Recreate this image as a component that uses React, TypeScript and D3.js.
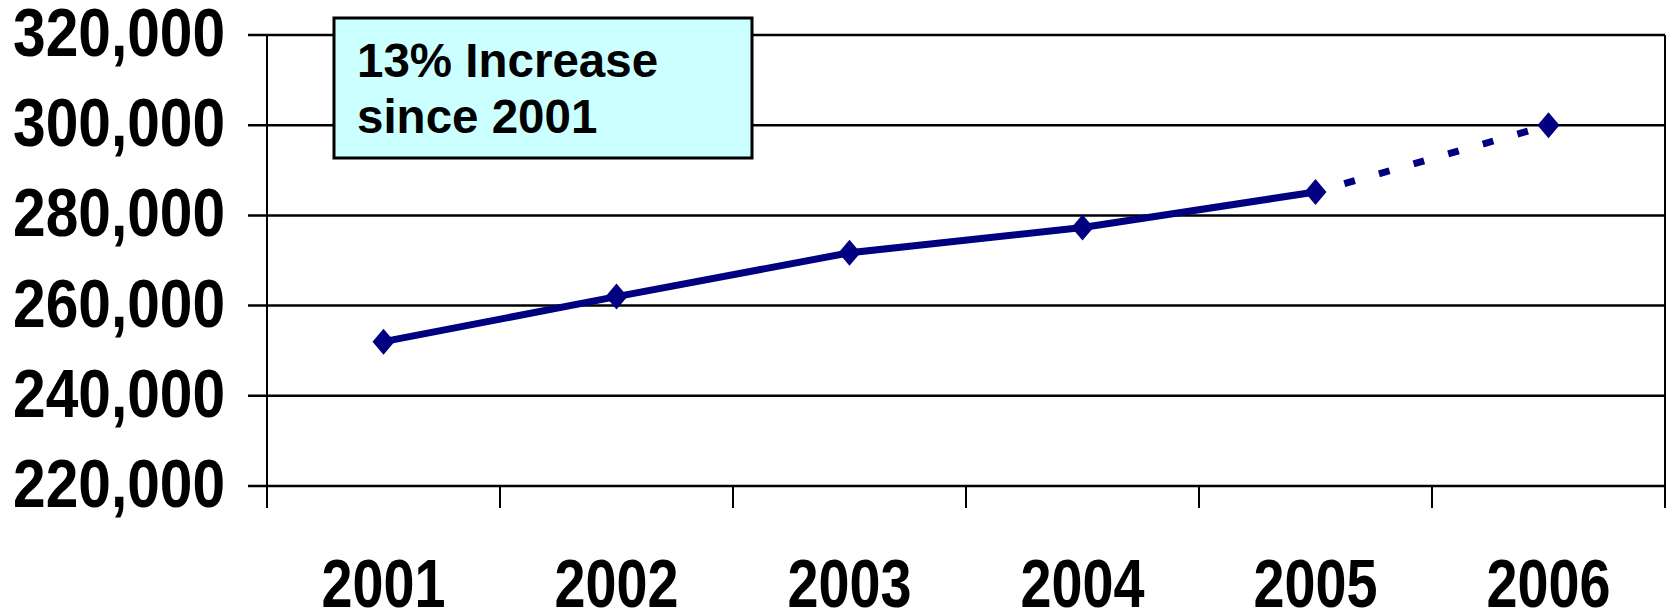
import React from "react";
import * as d3 from "d3";

const years: string[] = ["2001", "2002", "2003", "2004", "2005", "2006"];
const values: number[] = [252000, 262000, 271700, 277300, 285200, 300000];
const yTicks: number[] = [220000, 240000, 260000, 280000, 300000, 320000];
const solidCount = 5; // 2001-2005 solid, 2005-2006 dotted
const boxLines: string[] = ["13% Increase", "since 2001"];

const W = 1668;
const H = 613;
const NAVY = "#000080";

export default function App() {
  const x = d3.scaleBand<string>().domain(years).range([267, 1665]);
  const y = d3.scaleLinear().domain([220000, 320000]).range([486, 35]);
  const fmt = d3.format(",");
  const cx = (i: number) => (x(years[i]) as number) + x.bandwidth() / 2;
  const pts: [number, number][] = values.map((v, i) => [cx(i), y(v)]);
  const line = d3.line<[number, number]>().x((d) => d[0]).y((d) => d[1]);
  const solid = line(pts.slice(0, solidCount)) || "";
  const dotted = line(pts.slice(solidCount - 1)) || "";
  const [x0, x1] = x.range();
  const boundaries = years.map((yr) => x(yr) as number).concat([x1]);
  const font = "'Liberation Sans', Arial, sans-serif";
  const diamond = (px: number, py: number) =>
    `M${px},${py - 13}L${px + 11},${py}L${px},${py + 13}L${px - 11},${py}Z`;

  return (
    <svg
      width={W}
      height={H}
      style={{ position: "absolute", left: 0, top: 0, background: "#fff" }}
    >
      {/* gridlines */}
      {yTicks.map((t) => (
        <line key={t} x1={x0 - 19} x2={x1} y1={y(t)} y2={y(t)} stroke="#000" strokeWidth={2.5} />
      ))}
      {/* left axis and right border */}
      <line x1={x0} x2={x0} y1={y(320000)} y2={y(220000) + 22} stroke="#000" strokeWidth={2} />
      <line x1={x1} x2={x1} y1={y(320000)} y2={y(220000) + 22} stroke="#000" strokeWidth={2} />
      {/* x ticks */}
      {boundaries.map((b, i) => (
        <line key={i} x1={b} x2={b} y1={y(220000)} y2={y(220000) + 22} stroke="#000" strokeWidth={2} />
      ))}
      {/* y labels */}
      {yTicks.map((t) => (
        <text
          key={t}
          transform={`translate(225,${y(t) + 21}) scale(0.85,1)`}
          textAnchor="end"
          fontFamily={font}
          fontWeight="bold"
          fontSize={69}
          fill="#000"
        >
          {fmt(t)}
        </text>
      ))}
      {/* x labels */}
      {years.map((yr, i) => (
        <text
          key={yr}
          transform={`translate(${cx(i)},607) scale(0.82,1)`}
          textAnchor="middle"
          fontFamily={font}
          fontWeight="bold"
          fontSize={68}
          fill="#000"
        >
          {yr}
        </text>
      ))}
      {/* series */}
      <path d={solid} fill="none" stroke={NAVY} strokeWidth={7} />
      <path
        d={dotted}
        fill="none"
        stroke={NAVY}
        strokeWidth={7}
        strokeDasharray="11,25"
        strokeDashoffset={-30}
      />
      {pts.map((p, i) => (
        <path key={i} d={diamond(p[0], p[1])} fill={NAVY} />
      ))}
      {/* annotation box */}
      <rect x={334} y={18} width={418} height={140} fill="#CCFFFF" stroke="#000" strokeWidth={3} />
      {boxLines.map((s, i) => (
        <text
          key={s}
          x={357}
          y={77 + i * 56}
          fontFamily={font}
          fontWeight="bold"
          fontSize={47.5}
          fill="#000"
        >
          {s}
        </text>
      ))}
    </svg>
  );
}
